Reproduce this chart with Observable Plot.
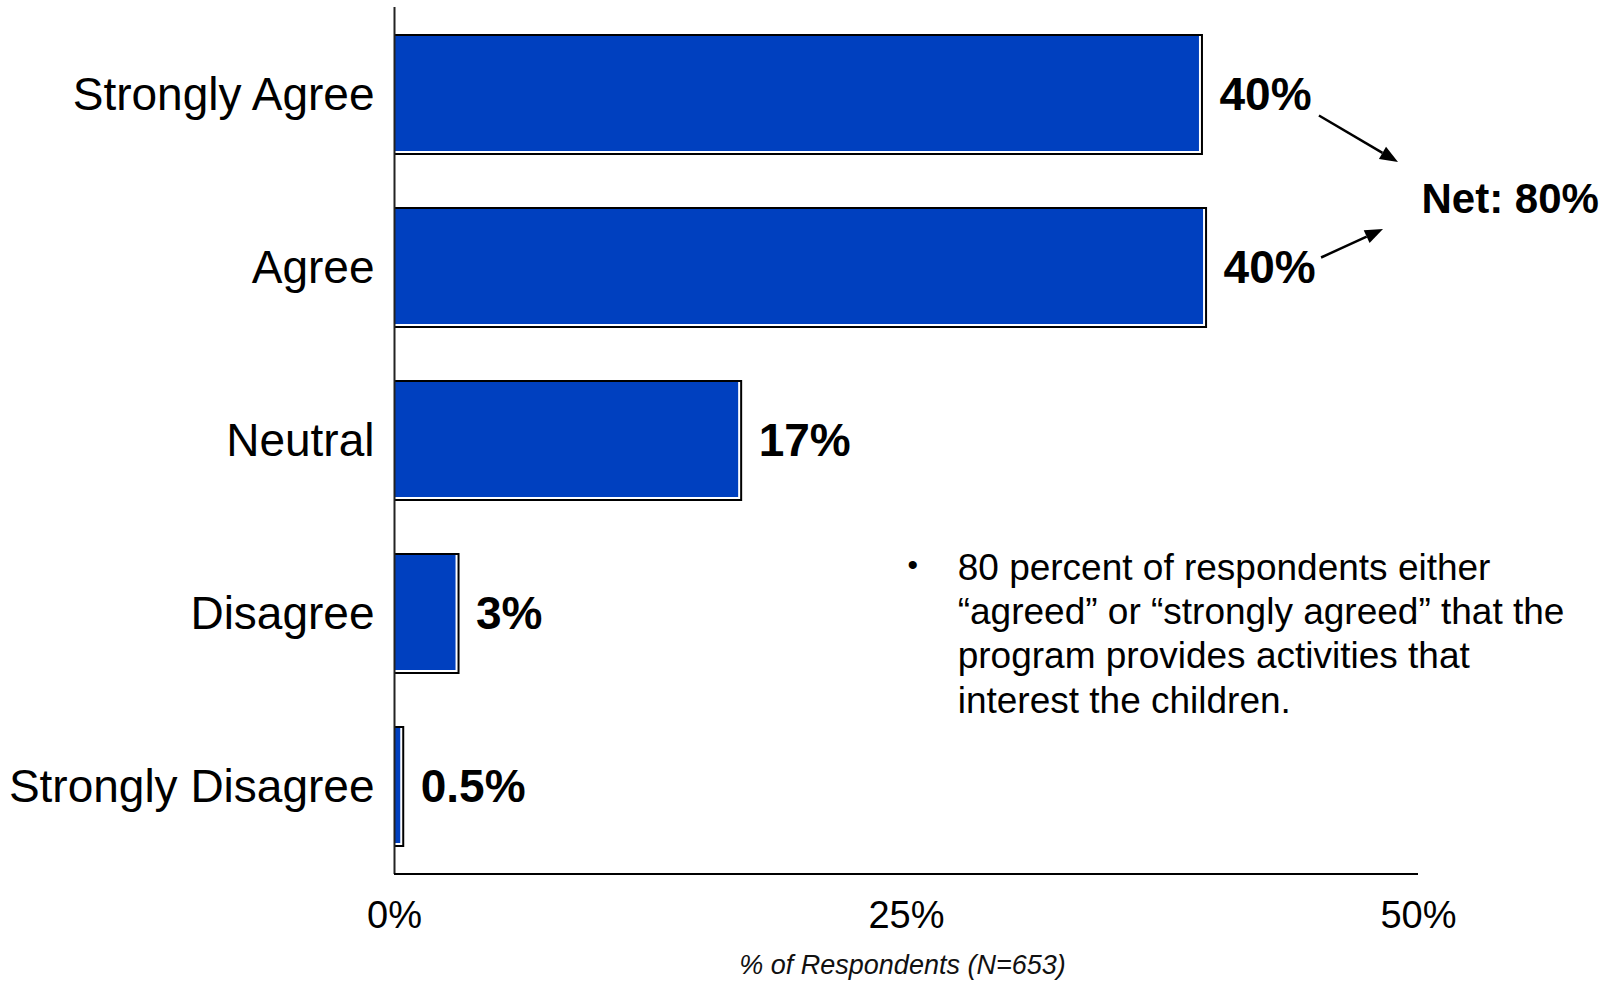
<!DOCTYPE html>
<html><head><meta charset="utf-8">
<script src="https://cdn.jsdelivr.net/npm/d3@7"></script>
<script src="https://cdn.jsdelivr.net/npm/@observablehq/plot@0.6"></script>
<style>
body{margin:0;background:#fff;}
#chart svg{font-family:"Liberation Sans",Arial,sans-serif;}
</style>
</head><body><div id="chart"></div>
<script>
// ---- data ----
const categories = ["Strongly Agree", "Agree", "Neutral", "Disagree", "Strongly Disagree"];
const values = [39.5, 39.7, 17.0, 3.2, 0.5];
const valueLabels = ["40%", "40%", "17%", "3%", "0.5%"];
const xTicks = [0, 25, 50];
const xTickLabels = ["0%", "25%", "50%"];
const axisTitle = "% of Respondents (N=653)";
const netLabel = "Net: 80%";
const noteLines = [
  "80 percent of respondents either",
  "\u201Cagreed\u201D or \u201Cstrongly agreed\u201D that the",
  "program provides activities that",
  "interest the children."
];
// annotation anchor (in data units of the x scale, % of respondents)
const noteX = [27.5];
const bulletX = [25.3];
const noteCategory = ["Disagree"];

const data = categories.map((c, i) => ({category: c, value: values[i], label: valueLabels[i]}));
const BLUE = "#0040BF";

function bandCenter(y, scales, c) {
  const bw = y.bandwidth ? y.bandwidth() : (scales.scales && scales.scales.y && scales.scales.y.bandwidth) || 0;
  return y(c) + bw / 2;
}

// x baseline
function baseline(index, scales, values, dims) {
  const g = d3.create("svg:g");
  const yy = dims.height - dims.marginBottom;
  g.append("line")
    .attr("x1", dims.marginLeft).attr("x2", dims.width - dims.marginRight)
    .attr("y1", yy).attr("y2", yy)
    .attr("stroke", "#000").attr("stroke-width", 2);
  return g.node();
}

// arrows from the two top value labels to the Net label
function arrows(index, scales, vals, dims) {
  const {x, y} = scales;
  const c0 = bandCenter(y, scales, categories[0]);
  const c1 = bandCenter(y, scales, categories[1]);
  const netY = (c0 + c1) / 2 + 18;
  const xEnd = x(xTicks[2]);
  const segs = [
    [x(values[0]) + 116, c0 + 21, xEnd - 20, netY - 37],
    [x(values[1]) + 114, c1 - 10, xEnd - 35, netY + 30]
  ];
  const g = d3.create("svg:g");
  for (const [x1, y1, x2, y2] of segs) {
    const ang = Math.atan2(y2 - y1, x2 - x1);
    const L = 18, W = 7;
    const bx = x2 - L * Math.cos(ang), by = y2 - L * Math.sin(ang);
    g.append("line").attr("x1", x1).attr("y1", y1).attr("x2", bx).attr("y2", by)
      .attr("stroke", "#000").attr("stroke-width", 2.5);
    const px = -Math.sin(ang) * W, py = Math.cos(ang) * W;
    g.append("polygon")
      .attr("points", `${x2},${y2} ${bx + px},${by + py} ${bx - px},${by - py}`)
      .attr("fill", "#000");
  }
  return g.node();
}

const chart = Plot.plot({
  width: 1612,
  height: 981,
  marginLeft: 394,
  marginRight: 194,
  marginTop: 7,
  marginBottom: 107,
  x: {domain: [0, 50]},
  y: {domain: categories, paddingInner: 0.3, paddingOuter: 0.15, label: null},
  marks: [
    Plot.barX(data, {x: "value", y: "category", fill: "#000"}),
    Plot.barX(data, {x: "value", y: "category", fill: "#fff", insetTop: 2, insetBottom: 2, insetRight: 2}),
    Plot.barX(data, {x: "value", y: "category", fill: BLUE, insetTop: 2, insetBottom: 4, insetRight: 4}),
    Plot.ruleX([0], {stroke: "#222", strokeWidth: 2}),
    baseline,
    Plot.axisY({tickSize: 0, tickPadding: 20, fontSize: 46, fill: "#000", label: null}),
    Plot.axisX({ticks: xTicks, tickFormat: (d) => xTickLabels[xTicks.indexOf(d)], tickSize: 0, tickPadding: 27, fontSize: 38, fill: "#000", label: null}),
    Plot.text([axisTitle], {frameAnchor: "bottom", dy: 99, dx: -4, fontSize: 27, fontStyle: "italic", fill: "#111"}),
    Plot.text(data, {x: "value", y: "category", text: "label", textAnchor: "start", dx: 16, fontSize: 46, fontWeight: "bold", fill: "#000"}),
    Plot.text([netLabel], {x: [xTicks[2]], y: [categories[0]], dy: 105, dx: 3, textAnchor: "start", fontSize: 42, fontWeight: "bold", fill: "#000"}),
    arrows,
    Plot.text([noteLines.join("\n")], {x: noteX, y: noteCategory, dy: 18, textAnchor: "start", lineHeight: 1.2, fontSize: 37, fill: "#000"}),
    Plot.text(["\u2022"], {x: bulletX, y: noteCategory, dy: -49, fontSize: 30, fill: "#000"})
  ]
});
document.getElementById("chart").appendChild(chart);
</script>
</body></html>
